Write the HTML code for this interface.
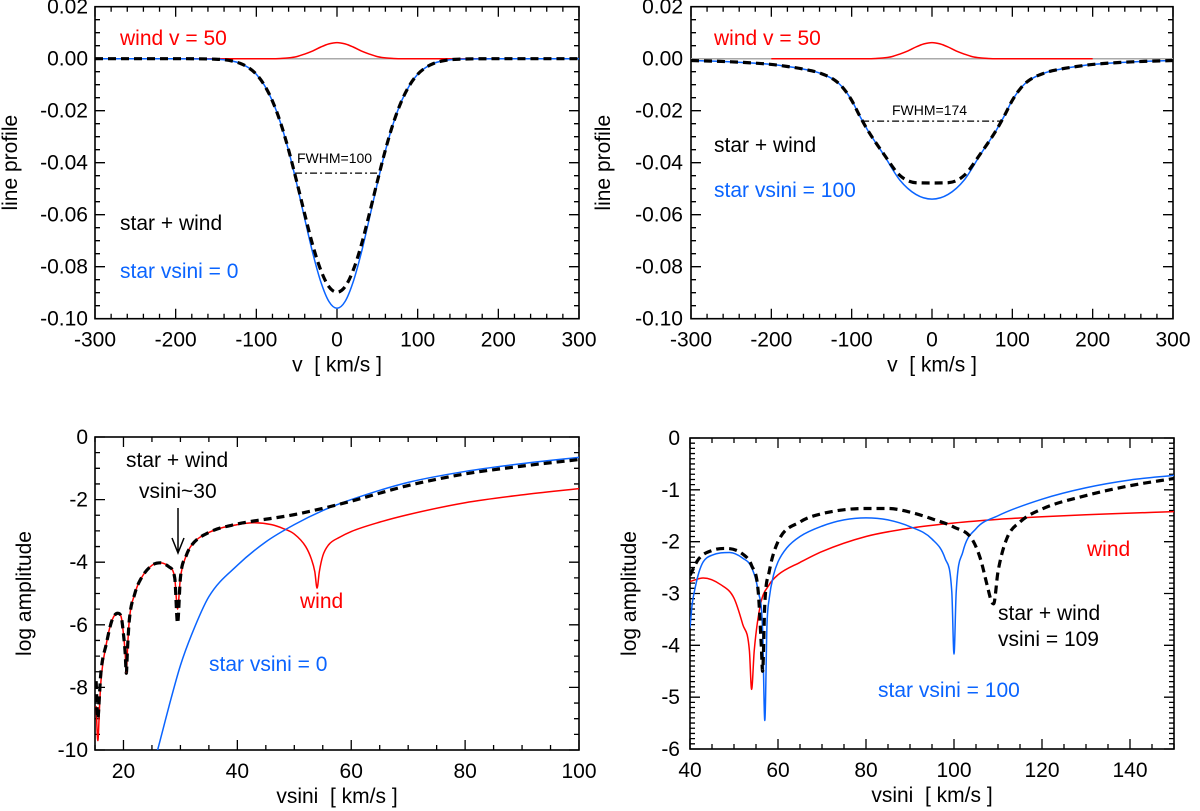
<!DOCTYPE html>
<html><head><meta charset="utf-8">
<style>
html,body{margin:0;padding:0;background:#fff;}
svg{display:block;font-family:"Liberation Sans",Arial,sans-serif;}
text{white-space:pre;}
</style></head>
<body>
<svg id="fig" width="1200" height="811" viewBox="0 0 1200 811" xmlns="http://www.w3.org/2000/svg"></svg>
<script>
// ---------- Panel A (top-left): line profiles, star vsini=0 ----------
const vA = [-300,-200,-150,-140,-130,-120,-110,-100,-90,-80,-70,-60,-50,-40,-30,-20,-10,0,10,20,30,40,50,60,70,80,90,100,110,120,130,140,150,200,300];
const starA = [0,0,-0.0002,-0.0004,-0.0009,-0.0018,-0.0034,-0.0060,-0.0102,-0.0163,-0.0247,-0.0354,-0.0480,-0.0616,-0.0748,-0.0859,-0.0934,-0.0960,-0.0934,-0.0859,-0.0748,-0.0616,-0.0480,-0.0354,-0.0247,-0.0163,-0.0102,-0.0060,-0.0034,-0.0018,-0.0009,-0.0004,-0.0002,0,0];
const totalA = [0,0,-0.0002,-0.0004,-0.0009,-0.0018,-0.0034,-0.0060,-0.0102,-0.0163,-0.0246,-0.0351,-0.0472,-0.0598,-0.0718,-0.0814,-0.0877,-0.0898,-0.0877,-0.0814,-0.0718,-0.0598,-0.0472,-0.0351,-0.0246,-0.0163,-0.0102,-0.0060,-0.0034,-0.0018,-0.0009,-0.0004,-0.0002,0,0];
const windVA = [-300,-80,-70,-60,-50,-40,-30,-20,-10,0,10,20,30,40,50,60,70,80,300];
const windA = [0,0,0.0001,0.0003,0.0008,0.0018,0.0030,0.0045,0.0057,0.0062,0.0057,0.0045,0.0030,0.0018,0.0008,0.0003,0.0001,0,0];
// ---------- Panel B (top-right): star vsini=100 ----------
const vB = [-300,-250,-200,-180,-160,-140,-120,-110,-100,-90,-80,-60,-40,-20,0,20,40,60,80,90,100,110,120,140,160,180,200,250,300];
const starB = [-0.0007,-0.0012,-0.0022,-0.003,-0.004,-0.0055,-0.0085,-0.0115,-0.016,-0.022,-0.0275,-0.037,-0.0467,-0.0522,-0.054,-0.0522,-0.0467,-0.037,-0.0275,-0.022,-0.016,-0.0115,-0.0085,-0.0055,-0.004,-0.003,-0.0022,-0.0012,-0.0007];
const totalB = [-0.0007,-0.0012,-0.0022,-0.003,-0.004,-0.0055,-0.0085,-0.0115,-0.016,-0.022,-0.0275,-0.0367,-0.0449,-0.0477,-0.0478,-0.0477,-0.0449,-0.0367,-0.0275,-0.022,-0.016,-0.0115,-0.0085,-0.0055,-0.004,-0.003,-0.0022,-0.0012,-0.0007];
const windVB = [-200,-80,-70,-60,-50,-40,-30,-20,-10,0,10,20,30,40,50,60,70,80,200];
const windB = [0,0,0.0001,0.0003,0.0008,0.0018,0.0030,0.0045,0.0057,0.0062,0.0057,0.0045,0.0030,0.0018,0.0008,0.0003,0.0001,0,0];
// ---------- Panel C (bottom-left): log amplitude ----------
const xWindC = [15.2,15.5,15.8,16,17,18,19,19.6,20,20.3,20.5,20.7,21,22,23,25,26.5,28,29,29.5,30,31,32,35,40,43,46,48,50,52,53,53.6,54,54.4,55,56,58,60,65,70,80,90,100];
const windC = [-8.6,-9.7,-8.6,-7.9,-6.6,-5.85,-5.63,-5.75,-6.3,-6.9,-7.55,-6.8,-5.9,-5.0,-4.55,-4.1,-4.02,-4.15,-4.5,-5.5,-4.5,-3.8,-3.45,-3.05,-2.8,-2.74,-2.8,-2.92,-3.1,-3.5,-3.9,-4.3,-4.83,-4.3,-3.8,-3.45,-3.2,-3.02,-2.72,-2.48,-2.1,-1.85,-1.65];
const xTotalC = [15.2,15.5,15.8,16,17,18,19,19.6,20,20.3,20.5,20.7,21,22,23,25,26.5,28,29,29.5,30,31,32,35,40,43,46,50,55,60,70,80,90,100];
const totalC = [-7.8,-9.0,-8.2,-7.6,-6.6,-5.85,-5.63,-5.75,-6.3,-6.9,-7.55,-6.8,-5.9,-5.0,-4.55,-4.1,-4.02,-4.15,-4.5,-5.95,-4.5,-3.8,-3.45,-3.05,-2.78,-2.68,-2.6,-2.48,-2.28,-2.05,-1.55,-1.18,-0.93,-0.72];
const xStarC = [26,27,28,30,32,35,40,45,50,55,60,70,80,90,100];
const starC = [-10,-9.3,-8.6,-7.3,-6.3,-5.1,-4.1,-3.35,-2.8,-2.35,-2.0,-1.45,-1.1,-0.85,-0.65];
// ---------- Panel D (bottom-right) ----------
const xStarD = [40,40.5,41,42,43,45,49,52,54,55.5,56.5,57,57.5,58,59,60,62,65,70,75,80,85,90,95,98,99.5,100,100.5,102,105,110,120,130,140,150];
const starD = [-3.66,-3.2,-2.96,-2.6,-2.39,-2.26,-2.21,-2.32,-2.5,-2.96,-3.7,-5.45,-3.6,-3.1,-2.64,-2.39,-2.12,-1.9,-1.7,-1.58,-1.54,-1.58,-1.71,-1.95,-2.33,-2.97,-4.17,-2.97,-2.2,-1.75,-1.5,-1.18,-0.96,-0.81,-0.72];
const xWindD = [40,43,47,50,52,53.5,54,54.6,56,58,60,65,70,80,90,100,110,120,130,140,150];
const windD = [-2.77,-2.7,-2.83,-3.09,-3.6,-4.1,-4.85,-4.1,-3.22,-2.83,-2.64,-2.4,-2.19,-1.9,-1.74,-1.64,-1.57,-1.52,-1.48,-1.45,-1.42];
const xTotalD = [40,42,45,48,52,54,55.5,56.2,56.5,57,58,60,65,70,80,85,90,95,100,104,106,107.5,108.5,109,110,112,115,120,130,140,150];
const totalD = [-2.65,-2.33,-2.17,-2.13,-2.24,-2.46,-2.96,-4.0,-4.5,-3.2,-2.58,-2.0,-1.62,-1.46,-1.36,-1.36,-1.43,-1.56,-1.72,-1.94,-2.33,-2.83,-3.15,-3.2,-2.58,-1.94,-1.62,-1.37,-1.11,-0.92,-0.78];
// ---------- tick labels ----------
const xTicksTop = [-300,-200,-100,0,100,200,300];
const yTicksTop = [0.02,0.00,-0.02,-0.04,-0.06,-0.08,-0.10];
const yLabelsTop = ["0.02","0.00","-0.02","-0.04","-0.06","-0.08","-0.10"];
const xTicksC = [20,40,60,80,100];
const yTicksC = [0,-2,-4,-6,-8,-10];
const xTicksD = [40,60,80,100,120,140];
const yTicksD = [0,-1,-2,-3,-4,-5,-6];

const NS="http://www.w3.org/2000/svg";
const svg=document.getElementById('fig');
const BLUE="#0a64ff", RED="#ff0000";
const FS=21;
function mk(tag,attrs,parent){const e=document.createElementNS(NS,tag);for(const k in attrs)e.setAttribute(k,attrs[k]);(parent||svg).appendChild(e);return e;}

function makePanel(id,px0,px1,py0,py1,xmin,xmax,ymin,ymax){
  const g=mk('g',{});
  
  
  const cp=mk('clipPath',{id:'clip-'+id},g);
  mk('rect',{x:px0,y:py0,width:px1-px0,height:py1-py0},cp);
  return {g,px0,px1,py0,py1,xmin,xmax,ymin,ymax,
    sx:v=>px0+(v-xmin)/(xmax-xmin)*(px1-px0),
    sy:v=>py1-(v-ymin)/(ymax-ymin)*(py1-py0),id};
}
function axes(p,xMajor,xMinor,yMajor,yMinor,xLabelFn,yLabels,xTitle,yTitle,yTitleX,yLabX){
  const g=p.g;
  let d='';
  const eps=1e-9;
  for(let v=Math.ceil((p.xmin-eps)/xMinor)*xMinor; v<=p.xmax+eps; v+=xMinor){
    const isMaj=xMajor.some(m=>Math.abs(m-v)<1e-6);
    const L=isMaj?10:5, X=p.sx(v);
    d+=`M${X},${p.py1}v${-L}M${X},${p.py0}v${L}`;
  }
  for(let v=Math.ceil((p.ymin-eps)/yMinor)*yMinor; v<=p.ymax+eps; v+=yMinor){
    const isMaj=yMajor.some(m=>Math.abs(m-v)<1e-6);
    const L=isMaj?10:5, Y=p.sy(v);
    d+=`M${p.px0},${Y}h${L}M${p.px1},${Y}h${-L}`;
  }
  const t=mk('path',{d,stroke:'#000','stroke-width':1.3,fill:'none'},g);
  
  
  const fr=mk('rect',{x:p.px0,y:p.py0,width:p.px1-p.px0,height:p.py1-p.py0,fill:'none',stroke:'#000','stroke-width':1.6},g);
  
  
  xMajor.forEach(v=>{
    const e=mk('text',{x:p.sx(v),y:p.py1+28,'text-anchor':'middle','font-size':FS},g);
    e.textContent=xLabelFn(v);
    
    
  });
  yMajor.forEach((v,i)=>{
    const e=mk('text',{x:yLabX,y:p.sy(v)+7,'text-anchor':'end','font-size':FS},g);
    e.textContent=yLabels[i];
    
    
  });
  const xt=mk('text',{x:(p.px0+p.px1)/2,y:p.py1+53,'text-anchor':'middle','font-size':FS},g);
  xt.textContent=xTitle;
  
  
  const cy=(p.py0+p.py1)/2;
  const yt=mk('text',{x:yTitleX,y:cy,'text-anchor':'middle','font-size':FS,transform:`rotate(-90 ${yTitleX} ${cy})`},g);
  yt.textContent=yTitle;
  
  
}
// monotone cubic (Fritsch-Carlson) in pixel space
function series(p,xs,ys,opts,name){
  const P=xs.map((x,i)=>[p.sx(x),p.sy(ys[i])]);
  const n=P.length, dl=[], m=new Array(n);
  for(let i=0;i<n-1;i++) dl.push((P[i+1][1]-P[i][1])/(P[i+1][0]-P[i][0]));
  m[0]=dl[0]; m[n-1]=dl[n-2];
  for(let i=1;i<n-1;i++){ m[i]=(dl[i-1]*dl[i]<=0)?0:(dl[i-1]+dl[i])/2; }
  for(let i=0;i<n-1;i++){
    if(dl[i]===0){m[i]=0;m[i+1]=0;continue;}
    const a=m[i]/dl[i], b=m[i+1]/dl[i], s=a*a+b*b;
    if(s>9){const t=3/Math.sqrt(s); m[i]=t*a*dl[i]; m[i+1]=t*b*dl[i];}
  }
  let d='M'+P[0][0]+','+P[0][1];
  for(let i=0;i<n-1;i++){
    const h=(P[i+1][0]-P[i][0])/3;
    d+=`C${P[i][0]+h},${P[i][1]+m[i]*h} ${P[i+1][0]-h},${P[i+1][1]-m[i+1]*h} ${P[i+1][0]},${P[i+1][1]}`;
  }
  const a=Object.assign({d,fill:'none','clip-path':`url(#clip-${p.id})`,'stroke-linejoin':'round'},opts);
  const e=mk('path',a,p.g);
  
  
  return e;
}
function label(p,x,y,txt,color,size,name){
  const e=mk('text',{x,y,fill:color,'font-size':size},p.g);
  e.textContent=txt;
  
  
}
const DASH={stroke:'#000','stroke-width':3.2,'stroke-dasharray':'8,5'};
const fmtInt=v=>String(v);

// Panel A
const A=makePanel('panel-top-left',95,579,6.7,318.7,-300,300,-0.10,0.02);
axes(A,xTicksTop,20,yTicksTop,0.005,fmtInt,yLabelsTop,'v  [ km/s ]','line profile',17,88);
const zA=mk('line',{x1:A.px0,x2:A.px1,y1:A.sy(0),y2:A.sy(0),stroke:'#aaa','stroke-width':1.5},A.g);


series(A,windVA,windA,{stroke:RED,'stroke-width':1.5},'wind-line');
series(A,vA,starA,{stroke:BLUE,'stroke-width':1.5},'star-line');
series(A,vA,totalA,DASH,'star-plus-wind-line');
const fA=mk('line',{x1:A.sx(-52),x2:A.sx(52),y1:A.sy(-0.044),y2:A.sy(-0.044),stroke:'#000','stroke-width':1.3,'stroke-dasharray':'7,3,2,3'},A.g);


label(A,297,163,'FWHM=100','#000',14,'fwhm-label');
label(A,120,45,'wind v = 50',RED,FS,'wind-label');
label(A,120,230,'star + wind','#000',FS,'star-wind-label');
label(A,120,278,'star vsini = 0',BLUE,FS,'star-label');

// Panel B
const B=makePanel('panel-top-right',691,1173,6.7,318.7,-300,300,-0.10,0.02);
axes(B,xTicksTop,20,yTicksTop,0.005,fmtInt,yLabelsTop,'v  [ km/s ]','line profile',610,683);
const zB=mk('line',{x1:B.px0,x2:B.px1,y1:B.sy(0),y2:B.sy(0),stroke:'#aaa','stroke-width':1.5},B.g);


series(B,windVB,windB,{stroke:RED,'stroke-width':1.5},'wind-line');
series(B,vB,starB,{stroke:BLUE,'stroke-width':1.5},'star-line');
series(B,vB,totalB,DASH,'star-plus-wind-line');
const fB=mk('line',{x1:B.sx(-87),x2:B.sx(87),y1:B.sy(-0.024),y2:B.sy(-0.024),stroke:'#000','stroke-width':1.3,'stroke-dasharray':'7,3,2,3'},B.g);


label(B,892,115,'FWHM=174','#000',14,'fwhm-label');
label(B,714,45,'wind v = 50',RED,FS,'wind-label');
label(B,714,152,'star + wind','#000',FS,'star-wind-label');
label(B,714,197,'star vsini = 100',BLUE,FS,'star-label');

// Panel C
const C=makePanel('panel-bottom-left',95,579,437,750,15,100,-10,0);
axes(C,xTicksC,5,yTicksC,0.5,fmtInt,yTicksC.map(String),'vsini  [ km/s ]','log amplitude',31,88);
series(C,xWindC,windC,{stroke:RED,'stroke-width':1.5},'wind-line');
series(C,xStarC,starC,{stroke:BLUE,'stroke-width':1.5},'star-line');
series(C,xTotalC,totalC,DASH,'star-plus-wind-line');
label(C,126,467,'star + wind','#000',FS,'star-wind-label');
label(C,139,498,'vsini~30','#000',FS,'vsini-30-label');
const ar=mk('path',{d:'M178,508V553M172,538L178,553L184,538',stroke:'#000','stroke-width':1.5,fill:'none'},C.g);


label(C,300,608,'wind',RED,FS,'wind-label');
label(C,209,671,'star vsini = 0',BLUE,FS,'star-label');

// Panel D
const D=makePanel('panel-bottom-right',690,1174,438,749,40,150,-6,0);
axes(D,xTicksD,5,yTicksD,0.1,fmtInt,yTicksD.map(String),'vsini  [ km/s ]','log amplitude',636,680);
series(D,xWindD,windD,{stroke:RED,'stroke-width':1.5},'wind-line');
series(D,xStarD,starD,{stroke:BLUE,'stroke-width':1.5},'star-line');
series(D,xTotalD,totalD,DASH,'star-plus-wind-line');
label(D,1087,556,'wind',RED,FS,'wind-label');
label(D,998,620,'star + wind','#000',FS,'star-wind-label');
label(D,998,646,'vsini = 109','#000',FS,'vsini-109-label');
label(D,878,697,'star vsini = 100',BLUE,FS,'star-label');
</script>
</body></html>
